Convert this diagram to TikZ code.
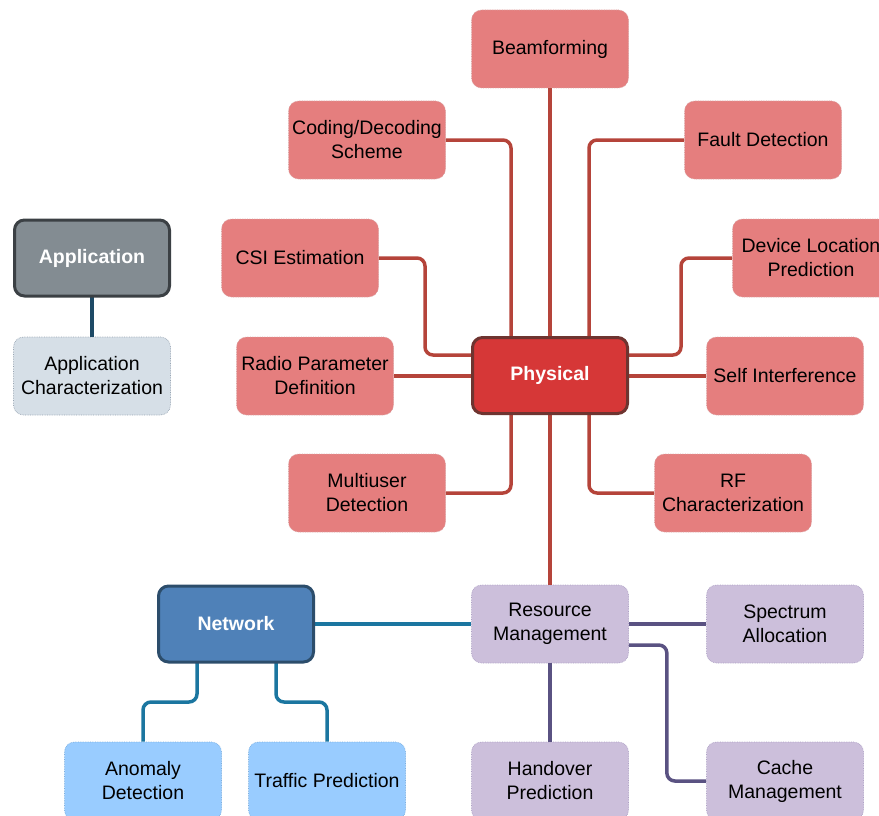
\documentclass[tikz,border=0pt]{standalone}
\usepackage{fontspec}
\setmainfont{Liberation Sans}
\definecolor{redfill}{HTML}{E57E7E}
\definecolor{redbord}{HTML}{D9A3A3}
\definecolor{physfill}{HTML}{D63737}
\definecolor{physbord}{HTML}{6E3430}
\definecolor{redline}{HTML}{B5443A}
\definecolor{purfill}{HTML}{CCBFDB}
\definecolor{purbord}{HTML}{ADA0C4}
\definecolor{purline}{HTML}{5A5282}
\definecolor{netfill}{HTML}{4F81B8}
\definecolor{netbord}{HTML}{2C4D6B}
\definecolor{bluefill}{HTML}{99CCFF}
\definecolor{bluebord}{HTML}{7AAEDF}
\definecolor{blueline}{HTML}{1B76A0}
\definecolor{appfill}{HTML}{838C92}
\definecolor{appbord}{HTML}{3B4044}
\definecolor{acfill}{HTML}{D6DFE7}
\definecolor{acbord}{HTML}{98A5B3}
\definecolor{appline}{HTML}{1E4A66}
\tikzset{
  box/.style={rounded corners=10pt, minimum width=157pt, minimum height=78pt,
    align=center, inner sep=2pt, font=\fontsize{19.5pt}{24pt}\selectfont,
    densely dotted, line width=0.7pt},
  redbox/.style={box, fill=redfill, draw=redbord},
  purbox/.style={box, fill=purfill, draw=purbord},
  bluebox/.style={box, fill=bluefill, draw=bluebord},
  acbox/.style={box, fill=acfill, draw=acbord},
  mainbox/.style={rounded corners=10pt, minimum width=155pt, minimum height=76pt,
    align=center, font=\fontsize{19.5pt}{24pt}\selectfont\bfseries, text=white,
    line width=3pt, solid},
  conn/.style={line width=3.5pt, rounded corners=8pt},
}
\begin{document}
\begin{tikzpicture}[x=1pt,y=-1pt]
\useasboundingbox (0,0) rectangle (879,816);
\clip (0,0) rectangle (879,816);
% nodes
\node[redbox] (beam) at (550,49) {Beamforming};
\node[redbox] (code) at (367,140) {Coding/Decoding\\Scheme};
\node[redbox] (fault) at (763,140) {Fault Detection};
\node[redbox] (csi) at (300,258) {CSI Estimation};
\node[redbox] (dev) at (811,258) {Device Location\\Prediction};
\node[redbox] (radio) at (315,376) {Radio Parameter\\Definition};
\node[redbox] (self) at (785,376) {Self Interference};
\node[redbox] (multi) at (367,493) {Multiuser\\Detection};
\node[redbox] (rf) at (733,493) {RF\\Characterization};
\node[purbox] (res) at (550,624) {Resource\\Management};
\node[purbox] (spec) at (785,624) {Spectrum\\Allocation};
\node[purbox] (hand) at (550,781) {Handover\\Prediction};
\node[purbox] (cache) at (785,781) {Cache\\Management};
\node[bluebox] (anom) at (143,781) {Anomaly\\Detection};
\node[bluebox] (traf) at (327,781) {Traffic Prediction};
\node[acbox] (appc) at (92,376) {Application\\Characterization};
% connectors
\begin{scope}[conn]
\draw[redline] (550,336) -- (beam.south);
\draw[redline] (511,336) |- (code.east);
\draw[redline] (589,336) |- (fault.west);
\draw[redline] (471,355) -- (425,355) |- (csi.east);
\draw[redline] (471,376) -- (radio.east);
\draw[redline] (629,355) -- (681,355) |- (dev.west);
\draw[redline] (629,376) -- (self.west);
\draw[redline] (511,415) |- (multi.east);
\draw[redline] (589,415) |- (rf.west);
\draw[redline] (550,415) -- (res.north);
\draw[purline] (res.east) -- (spec.west);
\draw[purline] ([yshift=-21pt]res.east) -- ++(38,0) |- (cache.west);
\draw[purline] (res.south) -- (hand.north);
\draw[blueline] (315,624) -- (res.west);
\draw[blueline] (197,663) -- (197,702) -| (anom.north);
\draw[blueline] (276,663) -- (276,702) -| (traf.north);
\draw[appline] (92,297) -- (appc.north);
\end{scope}
\node[mainbox, fill=physfill, draw=physbord] (phys) at (550,375.5) {Physical};
\node[mainbox, fill=netfill, draw=netbord] (net) at (236,624) {Network};
\node[mainbox, fill=appfill, draw=appbord] (app) at (92,258) {Application};
\end{tikzpicture}
\end{document}
